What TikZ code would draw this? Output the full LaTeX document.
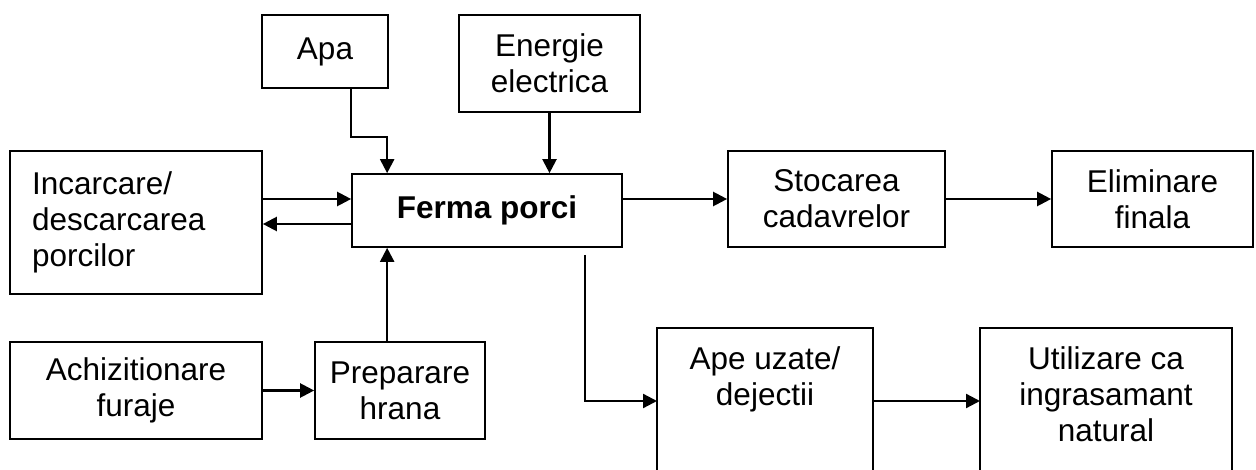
\documentclass[tikz,border=0pt]{standalone}
\usepackage{fontspec}
\setmainfont{Liberation Sans}
\usetikzlibrary{arrows.meta,calc}
\begin{document}
\begin{tikzpicture}[x=1pt,y=-1pt,
  box/.style={draw=black,line width=1.7pt,inner sep=0pt,align=center,
    font=\fontsize{31.5}{36}\selectfont},
  txt/.style={inner sep=0pt,align=center,font=\fontsize{31.5}{36}\selectfont},
  arr/.style={line width=2.3pt,-{Triangle[length=14pt,width=14pt]}},
  side/.style={draw=black,line width=1.7pt}]
\useasboundingbox (0,0) rectangle (1256,470);
\node[box,minimum width=126pt,minimum height=73pt] (apa) at (325,51.5) {Apa};
\node[box,minimum width=181pt,minimum height=97pt] (energie) at (549.5,63.5) {Energie\\electrica};
\node[box,minimum width=252pt,minimum height=143pt,text width=208pt,inner xsep=22pt,align=left] (incarcare) at (136,222.5) {Incarcare/\\descarcarea\\porcilor};
\node[box,minimum width=270pt,minimum height=73pt,font=\fontsize{31.5}{36}\selectfont\bfseries] (ferma) at (487,210.5) {Ferma porci};
\node[box,minimum width=217pt,minimum height=96pt] (stocarea) at (836.5,199) {Stocarea\\cadavrelor};
\node[box,minimum width=201pt,minimum height=96pt] (eliminare) at (1152.5,199) {Eliminare\\finala};
\node[box,minimum width=252pt,minimum height=97pt] (achiz) at (136,390.5) {Achizitionare\\furaje};
\node[box,minimum width=170pt,minimum height=97pt] (prep) at (400,390.5) {Preparare\\hrana};
% open-bottom boxes
\coordinate (apeNW) at (657,328);
\coordinate (apeNE) at (873,328);
\coordinate (apeW) at (657,401);
\coordinate (apeE) at (873,401);
\coordinate (utilNW) at (980,328);
\coordinate (utilNE) at (1232,328);
\coordinate (utilW) at (980,401);
\draw[side] (657,471) -- (apeNW) -- (apeNE) -- (873,471);
\draw[side] (980,471) -- (utilNW) -- (utilNE) -- (1232,471);
\node[txt,anchor=north] (ape) at (765,346) {Ape uzate/\\dejectii};
\node[txt,anchor=north] (util) at (1106,346) {Utilizare ca\\ingrasamant\\natural};
% connectors
\draw[arr] ([yshift=11.5pt]ferma.west -| incarcare.east) -- ([yshift=11.5pt]ferma.west);
\draw[arr] ([yshift=-13.5pt]ferma.west) -- ([yshift=-13.5pt]ferma.west -| incarcare.east);
\draw[arr] ([yshift=11.5pt]ferma.east) -- (stocarea.west);
\draw[arr] (stocarea.east) -- (eliminare.west);
\draw[arr] (apa.south -| ferma.west) -- ++(0,48) -| ([xshift=36pt]ferma.north west);
\draw[arr] (energie.south) -- (energie.south |- ferma.north);
\draw[arr] ([xshift=36pt]ferma.south west |- prep.north) -- ([xshift=36pt]ferma.south west);
\draw[arr] (achiz.east) -- (prep.west);
\coordinate (fout) at (585,255);
\draw[arr] (fout) |- (apeW);
\draw[arr] (apeE) -- (utilW);
\end{tikzpicture}
\end{document}
